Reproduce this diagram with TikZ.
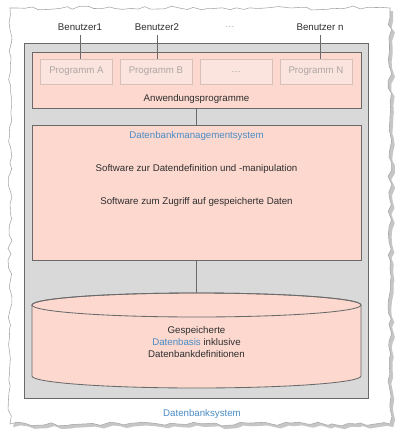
\documentclass[tikz,border=0pt]{standalone}
\usepackage{fontspec}
\setmainfont{Liberation Sans}
\usetikzlibrary{decorations.pathmorphing}
\definecolor{sysgray}{HTML}{D9D9D9}
\definecolor{laypink}{HTML}{FCD8CE}
\definecolor{progpink}{HTML}{FBE4DD}
\definecolor{progline}{HTML}{D6C0B9}
\definecolor{progtext}{HTML}{ADA6A4}
\definecolor{edge}{HTML}{6A6A6A}
\definecolor{headblue}{HTML}{4A8CC6}
\definecolor{bodytext}{HTML}{2E2E2E}
\begin{document}
\begin{tikzpicture}[
        font=\fontsize{6.9}{8.3}\selectfont, text=bodytext,
        torn/.style={decorate, decoration={random steps, segment length=5pt, amplitude=1.4pt}},
        layer/.style={rectangle, draw=edge, fill=laypink, line width=0.6pt, minimum width=8.225cm, inner sep=0pt},
        prog/.style={rectangle, draw=progline, fill=progpink, text=progtext, line width=0.5pt, minimum width=1.8cm, minimum height=0.625cm, inner sep=0pt},
        heading/.style={text=headblue},
        link/.style={draw=edge, line width=0.6pt}
    ]
        \fill[white] (0,0) rectangle (10,-10.9);
        \useasboundingbox (0,0) rectangle (10,-10.9);
        \pgfmathsetseed{7}
        \fill[gray!45, torn] (0.33,-0.28) rectangle (9.83,-10.68);
        \pgfmathsetseed{7}
        \draw[gray!70, fill=white, torn] (0.25,-0.2) rectangle (9.75,-10.6);

        \node[rectangle, draw=edge, fill=sysgray, line width=0.6pt, minimum width=8.6cm, minimum height=8.875cm] (system) at (4.9,-5.5125) {};
        \node[heading] (systemname) at (5.05,-10.35) {Datenbanksystem};

        \node[layer, minimum height=1.4cm] (apps) at (4.9125,-2.0) {};
        \node (appsname) at (4.9125,-2.475) {Anwendungsprogramme};
        \node[prog] (progA) at (1.9125,-1.7875) {Programm A};
        \node[prog] (progB) at (3.9,-1.7875) {Programm B};
        \node[prog] (progdots) at (5.9,-1.7875) {\dots};
        \node[prog] (progN) at (7.9,-1.7875) {Programm N};

        \node (user1) at (2.0,-0.675) {Benutzer1};
        \node (user2) at (3.925,-0.675) {Benutzer2};
        \node[text=progtext] (userdots) at (5.75,-0.675) {\dots};
        \node (usern) at (8.0,-0.675) {Benutzer n};
        \draw[link] (user1.south) -- (user1.south |- progA.north);
        \draw[link] (user2.south) -- (user2.south |- progB.north);
        \draw[link] (usern.south) -- (usern.south |- progN.north);

        \node[layer, minimum height=3.375cm] (dbms) at (4.9125,-4.8125) {};
        \node[heading] (dbmsname) at (4.9125,-3.4) {Datenbankmanagementsystem};
        \node (dbmsdef) at (4.9125,-4.225) {Software zur Datendefinition und -manipulation};
        \node (dbmsacc) at (4.9125,-5.05) {Software zum Zugriff auf gespeicherte Daten};
        \draw[link] (apps) -- (dbms);

        \draw[edge, fill=laypink, line width=0.6pt] (0.8,-7.625) -- (0.8,-9.4)
            arc[start angle=180, end angle=360, x radius=4.1125cm, y radius=0.3cm]
            -- (9.025,-7.625)
            arc[start angle=0, end angle=180, x radius=4.1125cm, y radius=0.3cm] -- cycle;
        \draw[edge, line width=0.6pt] (4.9125,-7.625) ellipse[x radius=4.1125cm, y radius=0.3cm];
        \coordinate (dbtop) at (4.9125,-7.325);
        \node[align=center] (database) at (4.9125,-8.55) {Gespeicherte\\\textcolor{headblue}{Datenbasis} inklusive\\Datenbankdefinitionen};
        \draw[link] (dbms) -- (dbtop);
    \end{tikzpicture}
\end{document}
